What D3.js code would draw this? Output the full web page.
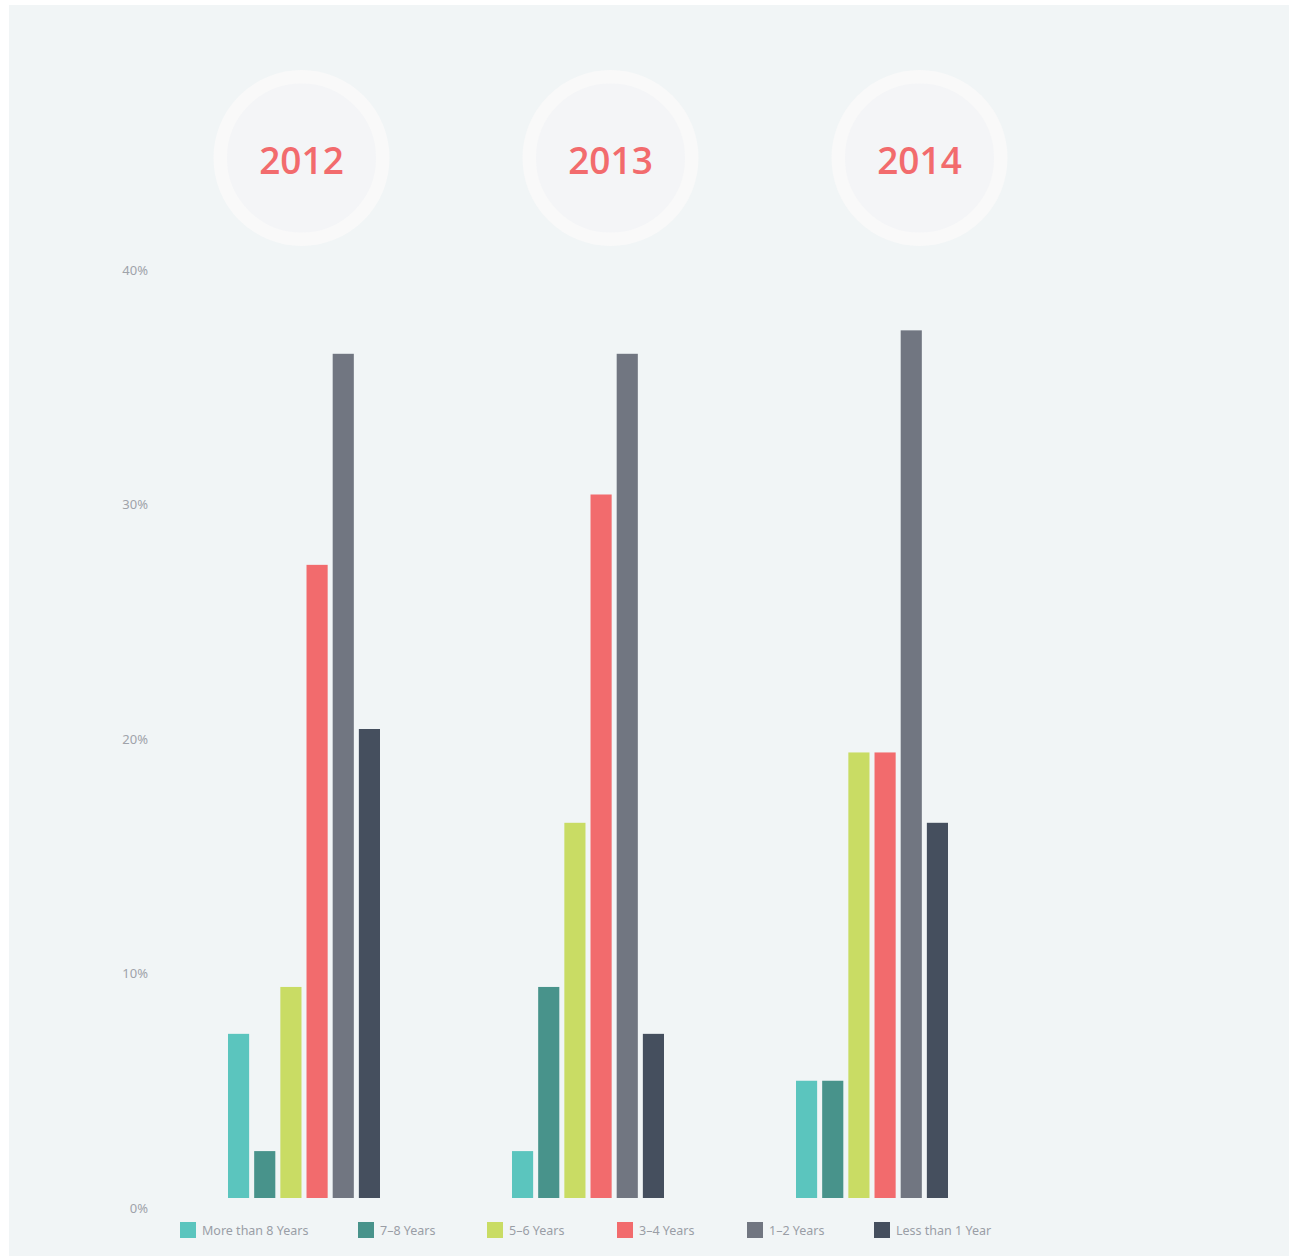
<!DOCTYPE html>
<html>
<head>
<meta charset="utf-8">
<script src="https://cdn.jsdelivr.net/npm/d3@7"></script>
<style>
  html, body { margin: 0; padding: 0; background: #ffffff; }
  svg { display: block; }
</style>
</head>
<body>
<svg id="chart" width="1289" height="1256"></svg>
<script>
// ---- data ----
const years = ["2012", "2013", "2014"];
const categories = ["More than 8 Years", "7–8 Years", "5–6 Years", "3–4 Years", "1–2 Years", "Less than 1 Year"];
const colors = ["#5bc5be", "#48938b", "#c9dc64", "#f26b6d", "#717681", "#454f5e"];
const moreThan8 = [7, 2, 5];
const years7to8 = [2, 9, 5];
const years5to6 = [9, 16, 19];
const years3to4 = [27, 30, 19];
const years1to2 = [36, 36, 37];
const lessThan1 = [20, 7, 16];
const tickValues = [0, 10, 20, 30, 40];
const tickLabels = ["0%", "10%", "20%", "30%", "40%"];

const seriesValues = [moreThan8, years7to8, years5to6, years3to4, years1to2, lessThan1];

// ---- layout ----
const svg = d3.select("#chart");
svg.append("rect").attr("x", 9).attr("y", 5).attr("width", 1280).attr("height", 1251).attr("fill", "#f1f5f6");

const y = d3.scaleLinear().domain([0, 40]).range([1198, 260]);
const x0 = d3.scaleBand().domain(years).range([162, 1014]);
const x1 = d3.scaleBand().domain(categories).range([66, 218]).paddingInner(5 / 26);
const color = d3.scaleOrdinal().domain(categories).range(colors);

// year circles
const circleX = d3.scalePoint().domain(years).range([301.5, 919.5]);
const yearsG = svg.append("g");
years.forEach(yr => {
  const g = yearsG.append("g").attr("transform", `translate(${circleX(yr)},158)`);
  g.append("circle").attr("r", 81.25).attr("fill", "#f4f5f7").attr("stroke", "#f9f9f9").attr("stroke-width", 13.5);
  g.append("text").attr("text-anchor", "middle").attr("y", 15.5)
    .attr("font-family", "'Open Sans', sans-serif").attr("font-weight", 600).attr("font-size", 37)
    .attr("fill", "#f26b6d").text(yr);
});

// axis
const axis = d3.axisLeft(y).tickValues(tickValues).tickFormat((d, i) => tickLabels[i]).tickSize(0).tickPadding(0);
const axG = svg.append("g").attr("transform", "translate(148,0)").call(axis);
axG.select(".domain").remove();
axG.selectAll("text").attr("y", 10).attr("font-family", "'Noto Sans', sans-serif").attr("font-size", 13).attr("fill", "#9fa3aa");

// bars
const groups = svg.append("g").selectAll("g").data(years).join("g")
  .attr("transform", d => `translate(${x0(d)},0)`);
groups.selectAll("rect")
  .data((yr, yi) => categories.map((c, ci) => ({ c, v: seriesValues[ci][yi] })))
  .join("rect")
  .attr("x", d => x1(d.c))
  .attr("width", x1.bandwidth())
  .attr("y", d => y(d.v))
  .attr("height", d => y(0) - y(d.v))
  .attr("fill", d => color(d.c));

// legend
const legendX = [180, 358, 487, 617, 747, 874];
const leg = svg.append("g").selectAll("g").data(categories).join("g")
  .attr("transform", (d, i) => `translate(${legendX[i]},1222)`);
leg.append("rect").attr("width", 16).attr("height", 16).attr("fill", d => color(d));
leg.append("text").attr("x", 22).attr("y", 13)
  .attr("font-family", "'Noto Sans', sans-serif").attr("font-size", 12.5).attr("fill", "#9a9ea6").text(d => d);
</script>
</body>
</html>
